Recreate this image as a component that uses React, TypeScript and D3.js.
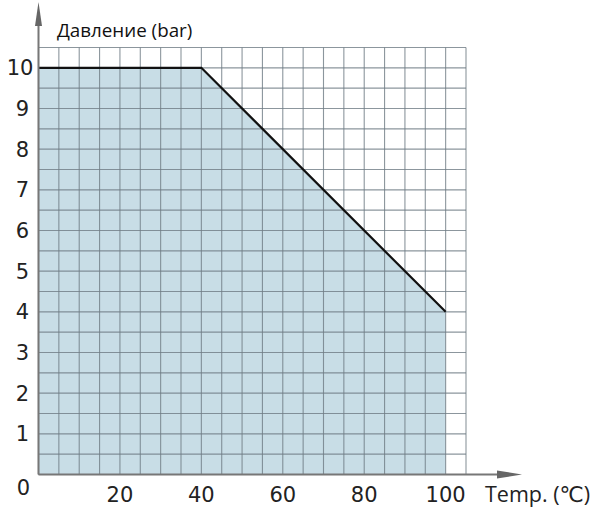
import React from 'react';
import * as d3 from 'd3';

const temps = [0, 40, 100];
const pressures = [10, 10, 4];
const xTicks = [20, 40, 60, 80, 100];
const yTicks = [1, 2, 3, 4, 5, 6, 7, 8, 9, 10];
const yTitle = 'Давление (bar)';
const xTitle = 'Temp. (℃)';

const W = 591;
const H = 509;

const App = () => {
  const x = d3.scaleLinear().domain([0, 105]).range([38.5, 466]);
  const y = d3.scaleLinear().domain([0, 10.5]).range([474.5, 47.5]);

  const pts = temps.map((t, i) => [t, pressures[i]] as [number, number]);

  const area = d3.area<[number, number]>()
    .x(d => x(d[0]))
    .y0(y(0))
    .y1(d => y(d[1]));

  const line = d3.line<[number, number]>()
    .x(d => x(d[0]))
    .y(d => y(d[1]));

  const gridX = d3.range(0, 105.01, 5);
  const gridY = d3.range(0, 10.51, 0.5);
  const font = '"Open Sans", "DejaVu Sans", sans-serif';
  const numFont = '"DejaVu Sans", sans-serif';

  return (
    <svg width={W} height={H} style={{ position: 'absolute', left: 0, top: 0, background: '#fff' }}>
      <path d={area(pts) || ''} fill="#c8dde6" />
      {gridX.map(v => (
        <line key={'gx' + v} x1={x(v)} x2={x(v)} y1={y(0)} y2={y(10.5)} stroke="#6f7c84" strokeOpacity={0.8} strokeWidth={1.1} />
      ))}
      {gridY.map(v => (
        <line key={'gy' + v} x1={x(0)} x2={x(105)} y1={y(v)} y2={y(v)} stroke="#6f7c84" strokeOpacity={0.8} strokeWidth={1.1} />
      ))}
      <path d={line(pts) || ''} fill="none" stroke="#111" strokeWidth={2.2} />

      {/* axes with arrows */}
      <line x1={x(0)} x2={x(0)} y1={y(0)} y2={20} stroke="#777" strokeWidth={2} />
      <path d={`M${x(0)},2 L${x(0) - 3.5},26 L${x(0) + 3.5},26 Z`} fill="#666" />
      <line x1={x(0)} x2={500} y1={y(0)} y2={y(0)} stroke="#777" strokeWidth={2} />
      <path d={`M522,${y(0)} L497,${y(0) - 4} L497,${y(0) + 4} Z`} fill="#666" />

      <text x={57} y={37} fontFamily={font} fontSize={18.8} fill="#111">{yTitle}</text>
      {yTicks.map(v => (
        <text key={'yt' + v} x={v === 10 ? 20 : 22.5} y={y(v)} dy="0.36em" textAnchor="middle" fontFamily={numFont} fontSize={21} fill="#222">{v}</text>
      ))}
      <text x={23.5} y={487} dy="0.36em" textAnchor="middle" fontFamily={numFont} fontSize={21} fill="#222">0</text>
      {xTicks.map(v => (
        <text key={'xt' + v} x={x(v)} y={502} textAnchor="middle" fontFamily={numFont} fontSize={21} fill="#222">{v}</text>
      ))}
      <text x={485} y={502} fontFamily={font} fontSize={21.5} fill="#222">{xTitle}</text>
    </svg>
  );
};

export default App;
